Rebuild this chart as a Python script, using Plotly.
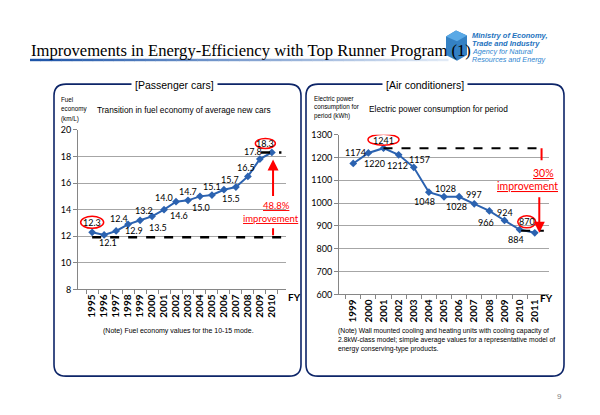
import plotly.graph_objects as go

# ---------------- data ----------------
fuel_years = ["1995", "1996", "1997", "1998", "1999", "2000", "2001", "2002",
              "2003", "2004", "2005", "2006", "2007", "2008", "2009", "2010"]
fuel_economy = [12.3, 12.1, 12.4, 12.9, 13.2, 13.5, 14.0, 14.6,
                14.7, 15.0, 15.1, 15.5, 15.7, 16.5, 17.8, 18.3]

ac_years = ["1999", "2000", "2001", "2002", "2003", "2004", "2005",
            "2006", "2007", "2008", "2009", "2010", "2011"]
ac_power = [1174, 1220, 1241, 1212, 1157, 1048, 1028, 1028, 997, 966, 924, 884, 870]

fuel_improvement = "48.8%"
ac_improvement = "30%"

# label offsets (pixels, style only)
fuel_lbl_dx = [0, 4, 2.5, 6, 4, 5.5, 0, 2.5, 0, 1.5, 0, 7, -6, -2, -7, -6.5]
fuel_lbl_dy = [10, -8, 12, -6, 10, -11, 12, -14, 9, -11, 9, -9, 8, 9, 8, 9]
ac_lbl_dx = [2, 6, 0, -1, 6, -4, 1.5, -3, 0, -3.5, 0, -4, -8]
ac_lbl_dy = [10.5, -11, 8, -10.5, 7.5, -9, 8.7, -9.3, 9, -11.7, 8, -9.5, 10.8]

W, H = 600, 415
BLUE = "#2B62B0"
AXIS = "#868686"
GRID = "#A6A6A6"
NAVY = "#0D2568"
RED = "#FF0000"
SANS = "Liberation Sans"
LBL = "Lato"


def px(x):
    return x / W


def py(y):
    return 1 - y / H


fig = go.Figure()
fig.add_trace(go.Scatter(
    x=fuel_years, y=fuel_economy, xaxis="x", yaxis="y", mode="lines+markers",
    line=dict(color=BLUE, width=2), marker=dict(symbol="diamond", size=6, color=BLUE),
    hoverinfo="skip"))
fig.add_trace(go.Scatter(
    x=ac_years, y=ac_power, xaxis="x2", yaxis="y2", mode="lines+markers",
    line=dict(color=BLUE, width=2), marker=dict(symbol="diamond", size=6, color=BLUE),
    hoverinfo="skip"))

xcommon = dict(type="category", tickangle=-90, showline=True, linecolor=AXIS, linewidth=1,
               ticks="outside", ticklen=4, tickcolor=AXIS, tickson="boundaries",
               tickmode="linear", tick0=0, dtick=1,
               showgrid=False, zeroline=False, fixedrange=True,
               tickfont=dict(family=LBL, size=10, color="black", weight="bold"))
ycommon = dict(showline=True, linecolor=AXIS, linewidth=1, ticks="outside", ticklen=4,
               tickcolor=AXIS, gridcolor=GRID, gridwidth=1, zeroline=False, fixedrange=True,
               tickfont=dict(family=LBL, size=9, color="black"))

fig.update_layout(
    width=W, height=H, margin=dict(l=0, r=0, t=0, b=0),
    paper_bgcolor="white", plot_bgcolor="white", showlegend=False,
    xaxis=dict(domain=[px(70), px(278)], anchor="y", **xcommon),
    yaxis=dict(domain=[py(283), py(119)], anchor="x", range=[8, 20], dtick=2, tick0=8, **ycommon),
    xaxis2=dict(domain=[px(331), px(541)], anchor="y2", **xcommon),
    yaxis2=dict(domain=[py(288), py(124)], anchor="x2", range=[600, 1300], dtick=100, tick0=600, **ycommon),
)

shapes = []
anns = []


def rounded(x0, y0, x1, y1, r):
    X = lambda v: f"{px(v):.5f}"
    Y = lambda v: f"{py(v):.5f}"
    return (f"M {X(x0 + r)},{Y(y0)} L {X(x1 - r)},{Y(y0)} Q {X(x1)},{Y(y0)} {X(x1)},{Y(y0 + r)} "
            f"L {X(x1)},{Y(y1 - r)} Q {X(x1)},{Y(y1)} {X(x1 - r)},{Y(y1)} "
            f"L {X(x0 + r)},{Y(y1)} Q {X(x0)},{Y(y1)} {X(x0)},{Y(y1 - r)} "
            f"L {X(x0)},{Y(y0 + r)} Q {X(x0)},{Y(y0)} {X(x0 + r)},{Y(y0)} Z")


# panels
for (a, b) in [(46, 293), (298, 556)]:
    shapes.append(dict(type="path", xref="paper", yref="paper", path=rounded(a, 72, b, 372, 12),
                       line=dict(color=NAVY, width=1.6), layer="below"))

# title underline gradient
n = 40
x_start, x_end = 22, 440
c0 = (28, 84, 168)
c1 = (225, 234, 246)
for i in range(n):
    t = i / (n - 1)
    c = tuple(int(c0[k] + (c1[k] - c0[k]) * t) for k in range(3))
    xa = x_start + (x_end - x_start) * i / n
    xb = x_start + (x_end - x_start) * (i + 1) / n
    shapes.append(dict(type="rect", xref="paper", yref="paper", x0=px(xa), x1=px(xb + 0.5),
                       y0=py(48.5), y1=py(46), line=dict(width=0), fillcolor=f"rgb{c}"))


# logo icon (simple)
def ppath(pts):
    return "M " + " L ".join(f"{px(x):.5f},{py(y):.5f}" for x, y in pts) + " Z"


shapes.append(dict(type="path", xref="paper", yref="paper",
                   path=ppath([(448, 17), (459, 22), (459, 42), (449, 48), (438, 42), (438, 23)]),
                   fillcolor="#1E73BE", line=dict(width=0), opacity=0.9))
shapes.append(dict(type="path", xref="paper", yref="paper",
                   path=ppath([(448, 17), (459, 22), (449, 28), (438, 23)]),
                   fillcolor="#5AA9E6", line=dict(width=0)))

# ---- left chart decorations ----
last_f = len(fuel_economy) - 1
shapes.append(dict(type="line", xref="x", yref="y", x0=0, x1=last_f + 0.8,
                   ysizemode="pixel", yanchor=fuel_economy[0], y0=-5, y1=-5,
                   line=dict(color="black", width=2.5, dash="dash")))
shapes.append(dict(type="line", xref="x", yref="y", x0=last_f - 0.9, x1=last_f + 0.8,
                   y0=fuel_economy[-1], y1=fuel_economy[-1],
                   line=dict(color="black", width=2.5, dash="dash")))
shapes.append(dict(type="circle", xref="x", yref="y", xsizemode="pixel", ysizemode="pixel",
                   xanchor=0, yanchor=fuel_economy[0], x0=-11.5, x1=11.5, y0=4, y1=16,
                   line=dict(color=RED, width=1.5)))
shapes.append(dict(type="circle", xref="x", yref="y", xsizemode="pixel", ysizemode="pixel",
                   xanchor=last_f, yanchor=fuel_economy[-1], x0=-16.5, x1=3.5, y0=4, y1=14,
                   line=dict(color=RED, width=1.5)))
shapes.append(dict(type="line", xref="x", yref="y", xsizemode="pixel", ysizemode="pixel",
                   xanchor=last_f + 0.1, yanchor=fuel_economy[0], x0=0, x1=0, y0=-3, y1=4,
                   line=dict(color=RED, width=2)))

# ---- right chart decorations ----
last_a = len(ac_power) - 1
imax = ac_power.index(max(ac_power))
shapes.append(dict(type="line", xref="x2", yref="y2", x0=imax, x1=last_a + 0.6,
                   y0=ac_power[imax], y1=ac_power[imax],
                   line=dict(color="black", width=2, dash="dash")))
shapes.append(dict(type="line", xref="x2", yref="y2", x0=last_a - 0.9, x1=last_a + 0.6,
                   ysizemode="pixel", yanchor=ac_power[-1], y0=2, y1=2,
                   line=dict(color="black", width=2, dash="dash")))
shapes.append(dict(type="line", xref="x2", yref="y2", xsizemode="pixel", ysizemode="pixel",
                   xanchor=last_a + 0.45, yanchor=ac_power[imax], x0=0, x1=0, y0=0, y1=-12,
                   line=dict(color=RED, width=2)))
shapes.append(dict(type="circle", xref="x2", yref="y2", xsizemode="pixel", ysizemode="pixel",
                   xanchor=imax, yanchor=ac_power[imax], x0=-15.5, x1=15.5, y0=3, y1=14,
                   line=dict(color=RED, width=1.5)))
shapes.append(dict(type="circle", xref="x2", yref="y2", xsizemode="pixel", ysizemode="pixel",
                   xanchor=last_a, yanchor=ac_power[-1], x0=-17, x1=1, y0=5, y1=17,
                   line=dict(color=RED, width=1.5)))


def txt(x, y, text, size, color="black", family=SANS, xanchor="center", **kw):
    d = dict(x=px(x), y=py(y), xref="paper", yref="paper", text=text, showarrow=False,
             xanchor=xanchor, yanchor="middle", font=dict(family=family, size=size, color=color))
    d.update(kw)
    return d


# data labels
for i, v in enumerate(fuel_economy):
    anns.append(dict(x=i, y=v, xref="x", yref="y", text=f"{v:.1f}", showarrow=False,
                     xshift=fuel_lbl_dx[i], yshift=fuel_lbl_dy[i],
                     font=dict(family=LBL, size=9, color="black")))
for i, v in enumerate(ac_power):
    anns.append(dict(x=i, y=v, xref="x2", yref="y2", text=str(v), showarrow=False,
                     xshift=ac_lbl_dx[i], yshift=ac_lbl_dy[i],
                     font=dict(family=LBL, size=9, color="black")))

# red arrows
anns.append(dict(x=last_f + 0.1, y=fuel_economy[-1], xref="x", yref="y", showarrow=True,
                 ax=0, ay=45, text="", arrowhead=2, arrowsize=1.1, arrowwidth=2,
                 arrowcolor=RED, standoff=7))
anns.append(dict(x=last_a + 0.3, y=ac_power[-1], xref="x2", yref="y2", showarrow=True,
                 ax=0, ay=-37, text="", arrowhead=2, arrowsize=1.1, arrowwidth=2,
                 arrowcolor=RED, standoff=0))

# improvement texts
anns.append(txt(268, 197, f"<u>{fuel_improvement}</u>", 9.5, RED, LBL))
anns.append(txt(263, 210, "<u>improvement</u>", 9.5, RED, LBL))
anns.append(txt(535, 163, f"<u>{ac_improvement}</u>", 10.5, RED, LBL))
anns.append(txt(519, 177, "<u>improvement</u>", 10.5, RED, LBL))

# titles / headings
anns.append(txt(21, 37, "Improvements in Energy-Efficiency with Top Runner Program (1)", 16.6,
                "black", "Liberation Serif", xanchor="left"))
anns.append(txt(166, 73, "[Passenger cars]", 10.5, "black", SANS, bgcolor="white", borderpad=3))
anns.append(txt(417, 73, "[Air conditioners]", 10.5, "black", SANS, bgcolor="white", borderpad=3))
anns.append(txt(175.5, 99, "Transition in fuel economy of average new cars", 8.3))
anns.append(txt(430.5, 98, "Electric power consumption for period", 8.3))
for yy, t in zip([88, 98, 108], ["Fuel", "economy", "(km/L)"]):
    anns.append(txt(51, yy, t, 6.3, xanchor="left"))
for yy, t in zip([87, 96, 105], ["Electric power", "consumption for", "period (kWh)"]):
    anns.append(txt(304, yy, t, 6.3, xanchor="left"))
anns.append(dict(x=px(286), y=py(299), xref="paper", yref="paper", text="<b>FY</b>", showarrow=False,
                 font=dict(family=LBL, size=10, color="black")))
anns.append(dict(x=px(547), y=py(300), xref="paper", yref="paper", text="<b>FY</b>", showarrow=False,
                 font=dict(family=LBL, size=10, color="black")))
anns.append(txt(171, 326, "(Note) Fuel economy values for the 10-15 mode.", 7))
for yy, t in zip([326, 335, 344], [
        "(Note) Wall mounted cooling and heating units with cooling capacity of",
        "2.8kW-class model; simple average values for a representative model of",
        "energy conserving-type products."]):
    anns.append(txt(328, yy, t, 6.8, xanchor="left"))

# logo text
anns.append(txt(462, 22, "<b><i>Ministry of Economy,</i></b>", 7.5, "#1E73BE", xanchor="left"))
anns.append(txt(462, 30, "<b><i>Trade and Industry</i></b>", 7.5, "#1E73BE", xanchor="left"))
anns.append(txt(462, 38.5, "<i>Agency for Natural</i>", 7.2, "#2E86D0", xanchor="left"))
anns.append(txt(462, 46.5, "<i>Resources and Energy</i>", 7.2, "#2E86D0", xanchor="left"))

anns.append(txt(551, 393, "9", 8, "#808080"))

fig.update_layout(shapes=shapes, annotations=anns)
fig.write_html("out.html")
